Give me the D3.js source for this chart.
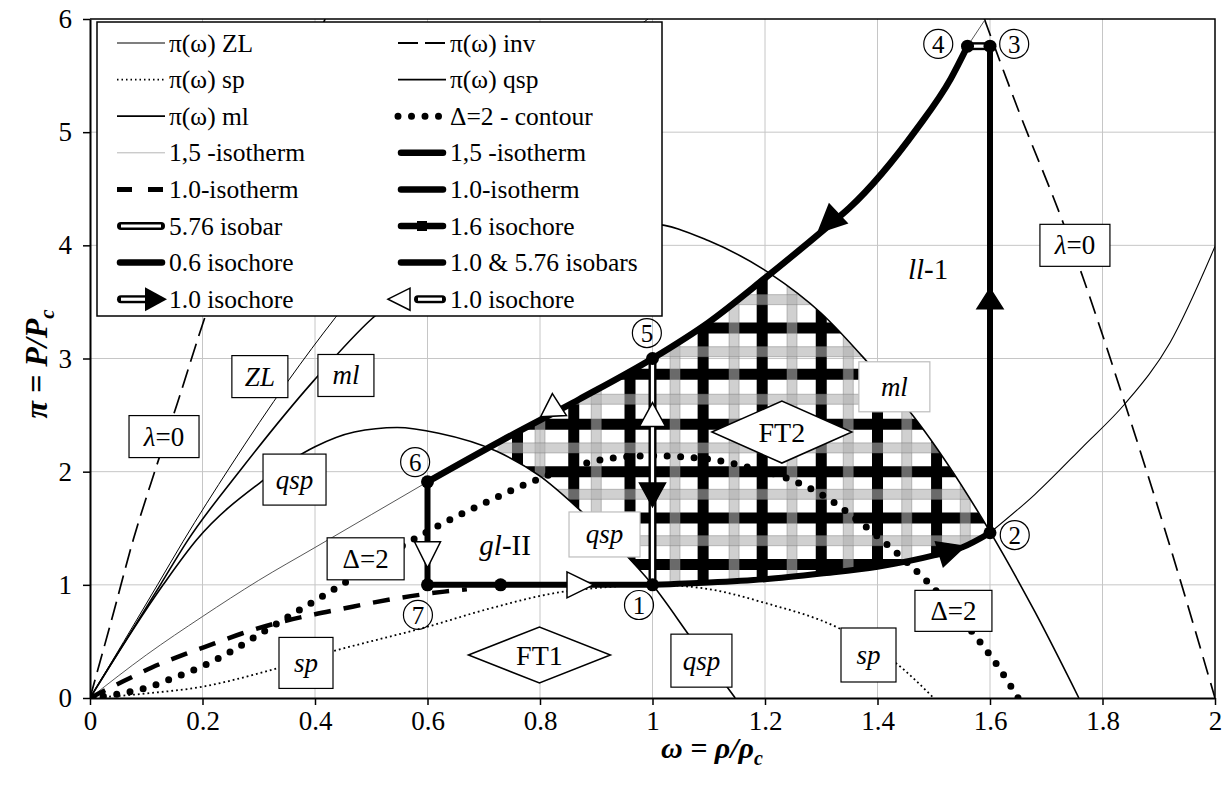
<!DOCTYPE html>
<html>
<head>
<meta charset="utf-8">
<script src="https://cdn.jsdelivr.net/npm/d3@7"></script>
<style>
  body { margin: 0; background: #fff; }
  svg text { font-family: 'Liberation Serif', 'DejaVu Serif', serif; }
</style>
</head>
<body>
<svg width="1232" height="785"></svg>
<script>
// Phase diagram pi(omega) with process cycle 1-7
const xTicks = [0, 0.2, 0.4, 0.6, 0.8, 1, 1.2, 1.4, 1.6, 1.8, 2];
const yTicks = [0, 1, 2, 3, 4, 5, 6];

// curves, [omega, pi]
const lambdaLeft = [[0,0],[0.04,0.72],[0.077,1.4],[0.115,2.0],[0.155,2.6],[0.204,3.36],[0.3,4.6],[0.418,6.0]];
const lambdaRight = [[1.59,6.0],[1.65,5.2],[1.73,4.2],[1.765,3.72],[1.84,2.6],[1.92,1.34],[2.0,0]];
const zl = [[0,0],[0.12,1.0],[0.165,1.38],[0.25,2.05],[0.352,2.8],[0.436,3.36],[0.6,4.3],[0.8,5.25],[0.992,6.0]];
const ml = [[0,0],[0.125,1.0],[0.172,1.38],[0.27,2.03],[0.397,2.8],[0.503,3.36],[0.6,3.72],[0.7,3.98],[0.8,4.13],[0.9,4.2],
            [1.0,4.19],[1.1,4.04],[1.209,3.75],[1.3,3.4],[1.38,2.98],[1.47,2.45],[1.6,1.47],[1.68,0.76],[1.758,0]];
const qsp = [[0,0],[0.13,1.0],[0.19,1.4],[0.307,1.92],[0.4,2.22],[0.47,2.35],[0.546,2.39],[0.62,2.34],[0.723,2.18],
             [0.8,1.96],[0.871,1.66],[0.94,1.33],[1.0,1.0],[1.07,0.52],[1.147,0]];
const sp = [[0,0],[0.1,0.04],[0.2,0.1],[0.302,0.22],[0.43,0.41],[0.6,0.63],[0.71,0.79],[0.83,0.93],[0.92,0.98],[1.0,1.0],
            [1.09,0.97],[1.2,0.84],[1.33,0.62],[1.43,0.32],[1.5,0]];
const delta2 = [[0,0],[0.05,0.035],[0.1,0.09],[0.15,0.18],[0.2,0.28],[0.25,0.41],[0.3,0.56],[0.35,0.71],[0.4,0.86],[0.45,1.01],
                [0.5,1.17],[0.56,1.36],[0.6,1.47],[0.65,1.6],[0.7,1.72],[0.78,1.9],[0.85,2.03],[0.93,2.12],[1.0,2.14],[1.1,2.11],
                [1.17,2.04],[1.24,1.94],[1.3,1.8],[1.37,1.55],[1.43,1.3],[1.49,1.02],[1.58,0.51],[1.61,0.31],[1.65,0]];
const iso10Dash = [[0,0],[0.06,0.15],[0.11,0.27],[0.17,0.39],[0.22,0.48],[0.27,0.57],[0.33,0.66],[0.4,0.74],[0.45,0.79],
                   [0.5,0.84],[0.57,0.9],[0.63,0.94],[0.67,0.96]];
const iso10Thick = [[1.0,1.0],[1.1,1.02],[1.2,1.05],[1.3,1.1],[1.4,1.16],[1.5,1.26],[1.55,1.33],[1.6,1.46]];
const iso10Thin = [[1.6,1.46],[1.68,1.8],[1.765,2.22],[1.84,2.6],[1.92,3.14],[2.0,3.99]];
const iso15Thin = [[0,0],[0.1,0.38],[0.2,0.72],[0.3,1.04],[0.4,1.33],[0.5,1.62],[0.6,1.91]];
const iso15ThinTop = [[1.56,5.76],[1.592,6.0]];
const iso15Thick = [[0.6,1.91],[0.73,2.27],[0.87,2.64],[1.0,3.0],[1.1,3.32],[1.2,3.71],[1.31,4.16],[1.35,4.33],
                    [1.47,5.03],[1.53,5.47],[1.56,5.76]];
const isochore06 = [[0.6,1.91],[0.6,1.0]];
const isochore10 = [[1.0,3.0],[1.0,1.0]];
const isochore16 = [[1.6,1.46],[1.6,5.76]];
const isobar10 = [[0.6,1.0],[1.0,1.0]];
const isobar576 = [[1.56,5.76],[1.6,5.76]];
const statePoints = [[1.0,1.0],[1.6,1.46],[1.6,5.76],[1.56,5.76],[1.0,3.0],[0.6,1.91],[0.6,1.0],[0.73,1.0]];

// FT2 hatch bars
const hatchBlackX = [0.76, 0.86, 0.96, 1.09, 1.195, 1.30, 1.40, 1.505];
const hatchBlackY = [1.18, 1.59, 2.0, 2.42, 2.86, 3.27];
const hatchGrayX = [0.80, 0.90, 1.04, 1.145, 1.248, 1.348, 1.452, 1.556];
const hatchGrayY = [1.39, 1.80, 2.21, 2.64, 3.06, 3.52];

// direction arrows on the process lines
const arrows = [
  { tip: [0.895, 1.0], from: [0.848, 1.0], filled: false },
  { tip: [0.6, 1.15], from: [0.6, 1.38], filled: false },
  { tip: [1.0, 2.61], from: [1.0, 2.4], filled: false },
  { tip: [1.0, 1.69], from: [1.0, 1.9], filled: true },
  { tip: [1.6, 3.62], from: [1.6, 3.44], filled: true },
  { tip: [0.822, 2.69], from: [0.824, 2.49], filled: false },
  { tip: [1.294, 4.11], from: [1.33, 4.28], filled: true },
  { tip: [1.555, 1.34], from: [1.51, 1.27], filled: true }
];

const numberLabels = [
  { n: '1', at: [0.976, 0.822] }, { n: '2', at: [1.644, 1.44] }, { n: '3', at: [1.643, 5.78] },
  { n: '4', at: [1.508, 5.78] }, { n: '5', at: [0.99, 3.225] }, { n: '6', at: [0.578, 2.085] },
  { n: '7', at: [0.583, 0.734] }
];

const boxNotes = [
  { t: 'λ', t2: '=0', at: [0.1316, 2.31], w: 70, h: 42 },
  { t: 'ZL', at: [0.302, 2.84], w: 56, h: 42, it: true },
  { t: 'ml', at: [0.455, 2.85], w: 56, h: 42, it: true },
  { t: 'qsp', at: [0.3636, 1.93], w: 63, h: 51, it: true },
  { t: 'Δ=2', at: [0.49, 1.23], w: 77, h: 42 },
  { t: 'sp', at: [0.384, 0.31], w: 54, h: 51, it: true },
  { t: 'qsp', at: [0.9147, 1.445], w: 71, h: 45, it: true, soft: true },
  { t: 'qsp', at: [1.087, 0.33], w: 61, h: 53, it: true },
  { t: 'sp', at: [1.384, 0.38], w: 55, h: 54, it: true },
  { t: 'Δ=2', at: [1.535, 0.77], w: 77, h: 41 },
  { t: 'λ', t2: '=0', at: [1.751, 4.0], w: 70, h: 42 },
  { t: 'ml', at: [1.43, 2.75], w: 71, h: 50, it: true, soft: true }
];
const diamonds = [{ t: 'FT1', at: [0.799, 0.38], hw: 71, hh: 28 }, { t: 'FT2', at: [1.23, 2.35], hw: 70, hh: 31 }];
const regionNames = [{ a: 'gl', b: '-II', at: [0.738, 1.35] }, { a: 'll', b: '-1', at: [1.49, 3.79] }];

const legendLeft = [
  ['thin', 'π(ω) ZL'], ['dotted', 'π(ω) sp'], ['solid', 'π(ω) ml'], ['gray', '1,5 -isotherm'],
  ['dashThick', '1.0-isotherm'], ['hollow', '5.76 isobar'], ['thick', '0.6 isochore'], ['hollowArrowR', '1.0 isochore']
];
const legendRight = [
  ['dash', 'π(ω) inv'], ['solid', 'π(ω) qsp'], ['dots', 'Δ=2 - contour'], ['thick', '1,5 -isotherm'],
  ['thick', '1.0-isotherm'], ['square', '1.6 isochore'], ['thick', '1.0 & 5.76 isobars'], ['hollowArrowL', '1.0 isochore']
];

const SERIF = "'Liberation Serif', 'DejaVu Serif', serif";
const svg = d3.select('svg');
const x = d3.scaleLinear().domain([0, 2]).range([90, 1215]);
const y = d3.scaleLinear().domain([0, 6]).range([698, 19]);
const line = d3.line().x(d => x(d[0])).y(d => y(d[1])).curve(d3.curveMonotoneX);
const straight = d3.line().x(d => x(d[0])).y(d => y(d[1]));

const defs = svg.append('defs');
defs.append('clipPath').attr('id', 'plotClip').append('rect')
    .attr('x', x(0)).attr('y', y(6)).attr('width', x(2) - x(0)).attr('height', y(0) - y(6));

// region FT2 outline built from the curves that bound it
const regionSegs = [
  iso15Thick.filter(d => d[0] >= 0.73 && d[0] <= 1.2),
  ml.filter(d => d[0] >= 1.209 && d[0] <= 1.6),
  iso10Thick.slice().reverse(),
  qsp.filter(d => d[0] >= 0.723 && d[0] <= 1.0).reverse()
];
const regionPath = regionSegs.map((s, i) => i ? line(s).replace(/^M/, 'L') : line(s)).join('') + 'Z';
defs.append('clipPath').attr('id', 'hatchClip').append('path').attr('d', regionPath);

// grid
const grid = svg.append('g').attr('stroke', '#c6c6c6').attr('stroke-width', 1);
grid.selectAll('.gx').data(xTicks.slice(1, -1)).join('line')
    .attr('x1', d => x(d)).attr('x2', d => x(d)).attr('y1', y(0)).attr('y2', y(6));
grid.selectAll('.gy').data(yTicks.slice(1, -1)).join('line')
    .attr('x1', x(0)).attr('x2', x(2)).attr('y1', d => y(d)).attr('y2', d => y(d));

const plot = svg.append('g').attr('clip-path', 'url(#plotClip)');

// hatch
const hatch = plot.append('g').attr('clip-path', 'url(#hatchClip)');
const hx0 = x(0.7), hx1 = x(1.62), hy0 = y(3.85), hy1 = y(0.95);
hatch.selectAll('.bx').data(hatchBlackX).join('line')
    .attr('x1', d => x(d)).attr('x2', d => x(d)).attr('y1', hy0).attr('y2', hy1)
    .attr('stroke', '#000').attr('stroke-width', 11);
hatch.selectAll('.by').data(hatchBlackY).join('line')
    .attr('x1', hx0).attr('x2', hx1).attr('y1', d => y(d)).attr('y2', d => y(d))
    .attr('stroke', '#000').attr('stroke-width', 11);
hatch.selectAll('.gxr').data(hatchGrayX).join('rect')
    .attr('x', d => x(d) - 5).attr('y', hy0).attr('width', 10).attr('height', hy1 - hy0)
    .attr('fill', 'rgba(177,177,177,0.6)').attr('stroke', 'rgba(120,120,120,0.45)');
hatch.selectAll('.gyr').data(hatchGrayY).join('rect')
    .attr('x', hx0).attr('y', d => y(d) - 5).attr('width', hx1 - hx0).attr('height', 10)
    .attr('fill', 'rgba(177,177,177,0.6)').attr('stroke', 'rgba(120,120,120,0.45)');

// thin curves
function curve(data, width, opts = {}) {
  return plot.append('path').attr('d', line(data)).attr('fill', 'none')
      .attr('stroke', opts.color || '#000').attr('stroke-width', width)
      .attr('stroke-dasharray', opts.dash || null).attr('stroke-linecap', opts.cap || 'butt');
}
curve(lambdaLeft, 1.7, { dash: '19,8' });
curve(lambdaRight, 1.7, { dash: '18,9' });
curve(zl, 1);
curve(ml, 1.6);
curve(qsp, 1.6);
curve(sp, 1.8, { dash: '1.8,3' });
curve(iso15Thin, 0.9, { color: '#444' });
curve(iso15ThinTop, 0.9, { color: '#444' });
curve(iso10Thin, 1.1);
curve(iso10Dash, 4.5, { dash: '17,13' });
curve(delta2, 7, { dash: '0,13.5', cap: 'round' });

// process lines
curve(iso15Thick, 6.5, { cap: 'round' });
curve(iso10Thick, 6, { cap: 'round' });
plot.append('path').attr('d', straight(isobar10)).attr('stroke', '#000').attr('stroke-width', 6);
plot.append('path').attr('d', straight(isochore06)).attr('stroke', '#000').attr('stroke-width', 6);
plot.append('path').attr('d', straight(isochore16)).attr('stroke', '#000').attr('stroke-width', 6);
[isochore10, isobar576].forEach(seg => {
  plot.append('path').attr('d', straight(seg)).attr('stroke', '#000').attr('stroke-width', 8);
  plot.append('path').attr('d', straight(seg)).attr('stroke', '#fff').attr('stroke-width', 3.2);
});

// arrows
function triangle(px, py, fx, fy, hw) {
  const dx = px - fx, dy = py - fy, len = Math.hypot(dx, dy);
  const nx = -dy / len, ny = dx / len;
  return `M${px},${py}L${fx + nx * hw},${fy + ny * hw}L${fx - nx * hw},${fy - ny * hw}Z`;
}
plot.selectAll('.arrow').data(arrows).join('path')
    .attr('d', d => triangle(x(d.tip[0]), y(d.tip[1]), x(d.from[0]), y(d.from[1]), 13))
    .attr('fill', d => d.filled ? '#000' : '#fff').attr('stroke', '#000').attr('stroke-width', 1.5)
    .attr('stroke-linejoin', 'miter');

// label boxes
const notes = svg.append('g');
const nb = notes.selectAll('.nb').data(boxNotes).join('g')
    .attr('transform', d => `translate(${x(d.at[0])},${y(d.at[1])})`);
nb.append('rect').attr('x', d => -d.w / 2).attr('y', d => -d.h / 2).attr('width', d => d.w).attr('height', d => d.h)
    .attr('fill', '#fff').attr('stroke', d => d.soft ? '#bdbdbd' : '#000').attr('stroke-width', 1.2);
nb.append('text').attr('text-anchor', 'middle').attr('dy', '0.33em').attr('font-size', 27)
    .each(function (d) {
      const t = d3.select(this);
      t.append('tspan').attr('font-style', d.it || d.t2 ? 'italic' : 'normal').text(d.t);
      if (d.t2) t.append('tspan').text(d.t2);
    });

const dm = notes.selectAll('.dm').data(diamonds).join('g')
    .attr('transform', d => `translate(${x(d.at[0])},${y(d.at[1])})`);
dm.append('path').attr('d', d => `M${-d.hw},0L0,${-d.hh}L${d.hw},0L0,${d.hh}Z`)
    .attr('fill', '#fff').attr('stroke', '#000').attr('stroke-width', 1.5);
dm.append('text').attr('text-anchor', 'middle').attr('dy', '0.35em').attr('font-size', 28).text(d => d.t);

notes.selectAll('.rn').data(regionNames).join('text')
    .attr('x', d => x(d.at[0])).attr('y', d => y(d.at[1])).attr('dy', '0.35em')
    .attr('text-anchor', 'middle').attr('font-size', 29)
    .each(function (d) {
      const t = d3.select(this);
      t.append('tspan').attr('font-style', 'italic').text(d.a);
      t.append('tspan').text(d.b);
    });

// state points and numbers
svg.append('g').selectAll('circle').data(statePoints).join('circle')
    .attr('cx', d => x(d[0])).attr('cy', d => y(d[1])).attr('r', 6.5).attr('fill', '#000');
const nl = svg.append('g').selectAll('g').data(numberLabels).join('g')
    .attr('transform', d => `translate(${x(d.at[0])},${y(d.at[1])})`);
nl.append('circle').attr('r', 14.5).attr('fill', 'none').attr('stroke', '#000').attr('stroke-width', 1.2);
nl.append('text').attr('text-anchor', 'middle').attr('dy', '0.35em').attr('font-size', 25).text(d => d.n);

// legend
const lg = svg.append('g');
lg.append('rect').attr('x', 97).attr('y', 22).attr('width', 565).attr('height', 294)
    .attr('fill', '#fff').attr('stroke', '#000').attr('stroke-width', 1.5);
function sample(g, kind, x0, x1, cy) {
  const ln = (a, b, w, c, extra) => {
    const l = g.append('line').attr('x1', a).attr('x2', b).attr('y1', cy).attr('y2', cy)
        .attr('stroke', c || '#000').attr('stroke-width', w);
    if (extra) extra(l);
    return l;
  };
  const hollow = (a, b) => { ln(a, b, 8, '#000', l => l.attr('stroke-linecap', 'round')); ln(a, b, 3.2, '#fff'); };
  if (kind === 'thin') ln(x0, x1, 1.2);
  if (kind === 'solid') ln(x0, x1, 1.8);
  if (kind === 'gray') ln(x0, x1, 1, '#b5b5b5');
  if (kind === 'dotted') ln(x0, x1, 1.6, '#000', l => l.attr('stroke-dasharray', '1.5,3'));
  if (kind === 'dash') ln(x0, x1, 1.8, '#000', l => l.attr('stroke-dasharray', '20,7'));
  if (kind === 'dashThick') ln(x0, x1, 5, '#000', l => l.attr('stroke-dasharray', '15,16'));
  if (kind === 'dots') ln(x0, x0 + 41, 7, '#000', l => l.attr('stroke-dasharray', '0,13.5').attr('stroke-linecap', 'round'));
  if (kind === 'thick') ln(x0 + 3, x1 - 3, 6.5, '#000', l => l.attr('stroke-linecap', 'round'));
  if (kind === 'square') {
    ln(x0 + 3, x1 - 3, 6.5, '#000', l => l.attr('stroke-linecap', 'round'));
    g.append('rect').attr('x', (x0 + x1) / 2 - 5).attr('y', cy - 5).attr('width', 10).attr('height', 10).attr('fill', '#000');
  }
  if (kind === 'hollow') hollow(x0 + 4, x1 - 4);
  if (kind === 'hollowArrowR') {
    hollow(x0 + 4, x1 - 18);
    g.append('path').attr('d', triangle(x1 + 2, cy, x1 - 20, cy, 12)).attr('fill', '#000');
  }
  if (kind === 'hollowArrowL') {
    hollow(x0 + 20, x1 - 4);
    g.append('path').attr('d', triangle(x0 - 10, cy, x0 + 12, cy, 11))
        .attr('fill', '#fff').attr('stroke', '#000').attr('stroke-width', 1.5);
  }
}
const rowY = i => 43 + i * 36.6;
[[legendLeft, 117, 165, 169], [legendRight, 398, 446, 450]].forEach(([items, x0, x1, tx]) => {
  items.forEach(([kind, label], i) => {
    sample(lg, kind, x0, x1, rowY(i));
    lg.append('text').attr('x', tx).attr('y', rowY(i)).attr('dy', '0.34em').attr('font-size', 25.5).text(label);
  });
});

// axes
const xAxis = d3.axisBottom(x).tickValues(xTicks).tickSize(7).tickSizeOuter(0).tickPadding(6).tickFormat(d => String(d));
const yAxis = d3.axisLeft(y).tickValues(yTicks).tickSize(7).tickSizeOuter(0).tickPadding(11).tickFormat(d => String(d));
[[xAxis, `translate(0,${y(0)})`], [yAxis, `translate(${x(0)},0)`]].forEach(([ax, tr]) => {
  svg.append('g').attr('transform', tr).call(ax)
      .attr('font-family', SERIF).attr('font-size', 27)
      .call(g => g.select('.domain').attr('stroke-width', 2))
      .call(g => g.selectAll('line').attr('stroke-width', 1.5))
      .call(g => g.selectAll('text').attr('fill', '#000'));
});
svg.append('path').attr('d', `M${x(0)},${y(6)}H${x(2)}V${y(0)}`)
    .attr('fill', 'none').attr('stroke', '#000').attr('stroke-width', 1.5);

// axis titles
const xt = svg.append('text').attr('x', 712).attr('y', 758).attr('text-anchor', 'middle')
    .attr('font-size', 30).attr('font-weight', 'bold').attr('font-style', 'italic');
xt.append('tspan').text('ω = ρ/ρ');
xt.append('tspan').attr('dy', 7).attr('font-size', 20).text('c');
const yt = svg.append('text').attr('transform', 'translate(47,364) rotate(-90)').attr('text-anchor', 'middle')
    .attr('font-size', 32).attr('font-weight', 'bold').attr('font-style', 'italic');
yt.append('tspan').text('π = P/P');
yt.append('tspan').attr('dy', 7).attr('font-size', 21).text('c');
</script>
</body>
</html>
